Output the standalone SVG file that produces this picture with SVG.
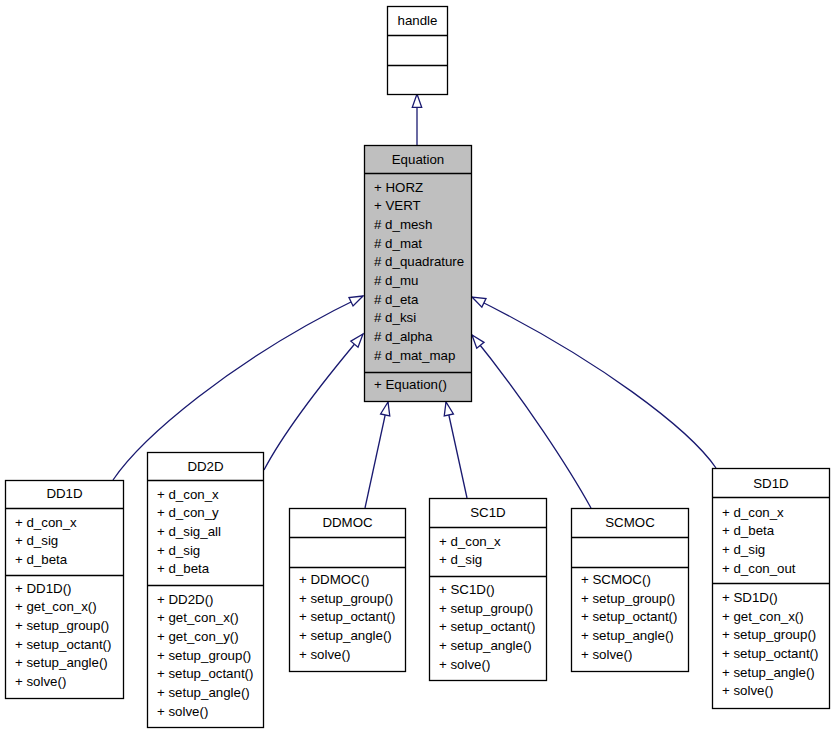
<svg xmlns="http://www.w3.org/2000/svg" width="835" height="733" viewBox="0 0 835 733">
<style>
.box{fill:#ffffff;stroke:#000000;stroke-width:1.3}
.gray{fill:#bfbfbf}
.div{stroke:#000000;stroke-width:1.3}
text{font-family:"Liberation Sans",Arial,Helvetica,sans-serif;font-size:13.3px;fill:#000000}
.t{text-anchor:middle}
.edge{fill:none;stroke:#191970;stroke-width:1.3}
</style>
<defs>
<marker id="inh" markerUnits="userSpaceOnUse" viewBox="-15 -6 16 12" markerWidth="16" markerHeight="12" refX="0" refY="0" orient="auto" overflow="visible">
<path d="M0,0 L-13.3,-4.7 L-13.3,4.7 Z" fill="#ffffff" stroke="#191970" stroke-width="1.3"/>
</marker>
</defs>
<rect width="835" height="733" fill="#ffffff"/>
<g id="connectors">
<path class="edge" d="M417,145 L417,94" marker-end="url(#inh)"/>
<path class="edge" d="M113,480 C140,440 230,360 363,296" marker-end="url(#inh)"/>
<path class="edge" d="M264,470 C285,430 320,385 363,334" marker-end="url(#inh)"/>
<path class="edge" d="M365,508 L388,402" marker-end="url(#inh)"/>
<path class="edge" d="M467,498 L446,402" marker-end="url(#inh)"/>
<path class="edge" d="M591,508 C570,470 525,400 472,335" marker-end="url(#inh)"/>
<path class="edge" d="M716,468 C690,430 600,360 472,297" marker-end="url(#inh)"/>
</g>
<g id="handle">
<rect class="box" x="387.5" y="6.5" width="60" height="88"/>
<line class="div" x1="387.5" y1="35.5" x2="447.5" y2="35.5"/>
<line class="div" x1="387.5" y1="65.5" x2="447.5" y2="65.5"/>
<text class="t" x="417.5" y="25">handle</text>
</g>
<g id="Equation">
<rect class="box gray" x="364.5" y="145.5" width="107" height="256"/>
<line class="div" x1="364.5" y1="173.5" x2="471.5" y2="173.5"/>
<line class="div" x1="364.5" y1="372.5" x2="471.5" y2="372.5"/>
<text class="t" x="418" y="164">Equation</text>
<text x="374" y="191.5">+ HORZ</text>
<text x="374" y="210.2">+ VERT</text>
<text x="374" y="228.8"># d_mesh</text>
<text x="374" y="247.5"># d_mat</text>
<text x="374" y="266.2"># d_quadrature</text>
<text x="374" y="284.8"># d_mu</text>
<text x="374" y="303.5"># d_eta</text>
<text x="374" y="322.2"># d_ksi</text>
<text x="374" y="340.8"># d_alpha</text>
<text x="374" y="359.5"># d_mat_map</text>
<text x="374" y="389">+ Equation()</text>
</g>
<g id="DD1D">
<rect class="box" x="5.5" y="480.5" width="118" height="218"/>
<line class="div" x1="5.5" y1="508.5" x2="123.5" y2="508.5"/>
<line class="div" x1="5.5" y1="575.5" x2="123.5" y2="575.5"/>
<text class="t" x="64.5" y="498">DD1D</text>
<text x="15" y="526.5">+ d_con_x</text>
<text x="15" y="545.2">+ d_sig</text>
<text x="15" y="563.8">+ d_beta</text>
<text x="15" y="592.5">+ DD1D()</text>
<text x="15" y="611.2">+ get_con_x()</text>
<text x="15" y="629.8">+ setup_group()</text>
<text x="15" y="648.5">+ setup_octant()</text>
<text x="15" y="667.2">+ setup_angle()</text>
<text x="15" y="685.8">+ solve()</text>
</g>
<g id="DD2D">
<rect class="box" x="147.5" y="452.5" width="116" height="275"/>
<line class="div" x1="147.5" y1="480.5" x2="263.5" y2="480.5"/>
<line class="div" x1="147.5" y1="585.5" x2="263.5" y2="585.5"/>
<text class="t" x="205.5" y="470.5">DD2D</text>
<text x="157" y="498.5">+ d_con_x</text>
<text x="157" y="517.2">+ d_con_y</text>
<text x="157" y="535.8">+ d_sig_all</text>
<text x="157" y="554.5">+ d_sig</text>
<text x="157" y="573.2">+ d_beta</text>
<text x="157" y="603.5">+ DD2D()</text>
<text x="157" y="622.2">+ get_con_x()</text>
<text x="157" y="640.8">+ get_con_y()</text>
<text x="157" y="659.5">+ setup_group()</text>
<text x="157" y="678.2">+ setup_octant()</text>
<text x="157" y="696.8">+ setup_angle()</text>
<text x="157" y="715.5">+ solve()</text>
</g>
<g id="DDMOC">
<rect class="box" x="289.5" y="508.5" width="116" height="163"/>
<line class="div" x1="289.5" y1="537.5" x2="405.5" y2="537.5"/>
<line class="div" x1="289.5" y1="567.5" x2="405.5" y2="567.5"/>
<text class="t" x="347.5" y="527">DDMOC</text>
<text x="299" y="584">+ DDMOC()</text>
<text x="299" y="602.7">+ setup_group()</text>
<text x="299" y="621.3">+ setup_octant()</text>
<text x="299" y="640">+ setup_angle()</text>
<text x="299" y="658.7">+ solve()</text>
</g>
<g id="SC1D">
<rect class="box" x="429.5" y="498.5" width="117" height="182"/>
<line class="div" x1="429.5" y1="527.5" x2="546.5" y2="527.5"/>
<line class="div" x1="429.5" y1="576.5" x2="546.5" y2="576.5"/>
<text class="t" x="488" y="517">SC1D</text>
<text x="439" y="545.5">+ d_con_x</text>
<text x="439" y="564.2">+ d_sig</text>
<text x="439" y="594">+ SC1D()</text>
<text x="439" y="612.7">+ setup_group()</text>
<text x="439" y="631.3">+ setup_octant()</text>
<text x="439" y="650">+ setup_angle()</text>
<text x="439" y="668.7">+ solve()</text>
</g>
<g id="SCMOC">
<rect class="box" x="571.5" y="508.5" width="117" height="163"/>
<line class="div" x1="571.5" y1="537.5" x2="688.5" y2="537.5"/>
<line class="div" x1="571.5" y1="567.5" x2="688.5" y2="567.5"/>
<text class="t" x="630" y="527">SCMOC</text>
<text x="581" y="584">+ SCMOC()</text>
<text x="581" y="602.7">+ setup_group()</text>
<text x="581" y="621.3">+ setup_octant()</text>
<text x="581" y="640">+ setup_angle()</text>
<text x="581" y="658.7">+ solve()</text>
</g>
<g id="SD1D">
<rect class="box" x="712.5" y="468.5" width="117" height="240"/>
<line class="div" x1="712.5" y1="497.5" x2="829.5" y2="497.5"/>
<line class="div" x1="712.5" y1="583.5" x2="829.5" y2="583.5"/>
<text class="t" x="771" y="487.5">SD1D</text>
<text x="722" y="516.5">+ d_con_x</text>
<text x="722" y="535.2">+ d_beta</text>
<text x="722" y="553.8">+ d_sig</text>
<text x="722" y="572.5">+ d_con_out</text>
<text x="722" y="602">+ SD1D()</text>
<text x="722" y="620.7">+ get_con_x()</text>
<text x="722" y="639.3">+ setup_group()</text>
<text x="722" y="658">+ setup_octant()</text>
<text x="722" y="676.7">+ setup_angle()</text>
<text x="722" y="695.3">+ solve()</text>
</g>
</svg>
